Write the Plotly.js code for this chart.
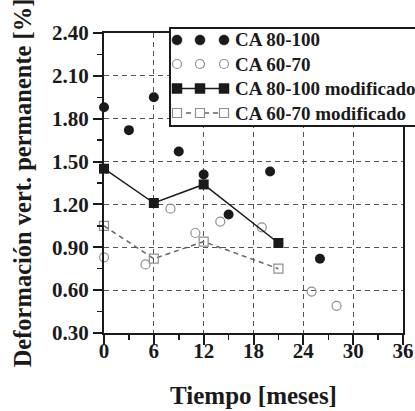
<!DOCTYPE html>
<html>
<head>
<meta charset="utf-8">
<script src="https://cdn.plot.ly/plotly-3.0.1.min.js"></script>
<style>html,body{margin:0;padding:0;background:#fff;}#chart{width:415px;height:411px;}</style>
</head>
<body>
<div id="chart"></div>
<script>
// ---- data ----
const ca80_x = [0, 3, 6, 9, 12, 15, 20, 26];
const ca80_y = [1.88, 1.72, 1.95, 1.57, 1.41, 1.13, 1.43, 0.82];
const ca60_x = [0, 5, 8, 11, 14, 19, 25, 28];
const ca60_y = [0.83, 0.78, 1.17, 1.00, 1.08, 1.04, 0.59, 0.49];
const ca80mod_x = [0, 6, 12, 21];
const ca80mod_y = [1.45, 1.21, 1.34, 0.93];
const ca60mod_x = [0, 6, 12, 21];
const ca60mod_y = [1.05, 0.82, 0.94, 0.75];
const seriesNames = ["CA 80-100", "CA 60-70", "CA 80-100 modificado", "CA 60-70 modificado"];
const xTicks = [0, 6, 12, 18, 24, 30, 36];
const yTicks = [0.30, 0.60, 0.90, 1.20, 1.50, 1.80, 2.10, 2.40];
const xTitle = "Tiempo [meses]";
const yTitle = "Deformación vert. permanente [%]";

// ---- layout constants ----
const W = 415, H = 411;
const M = {l: 104, r: 12, t: 33, b: 78};
const PW = W - M.l - M.r, PH = H - M.t - M.b;
const px2x = p => (p - M.l) / PW;
const py2y = p => (H - M.b - p) / PH;
const FONT = "Liberation Serif, serif";
const DARK = "#1a1a1a";
const GRAY = "#8f8f8f";

const traces = [
  {x: ca80_x, y: ca80_y, name: seriesNames[0], type: "scatter", mode: "markers", cliponaxis: false,
   marker: {symbol: "circle", size: 10, color: DARK}},
  {x: ca60_x, y: ca60_y, name: seriesNames[1], type: "scatter", mode: "markers", cliponaxis: false,
   marker: {symbol: "circle-open", size: 9, color: GRAY, line: {width: 1.2, color: GRAY}}},
  {x: ca80mod_x, y: ca80mod_y, name: seriesNames[2], type: "scatter", mode: "lines+markers", cliponaxis: false,
   line: {color: DARK, width: 1.5}, marker: {symbol: "square", size: 10, color: DARK}},
  {x: ca60mod_x, y: ca60mod_y, name: seriesNames[3], type: "scatter", mode: "lines+markers", cliponaxis: false,
   line: {color: "#666", width: 1.5, dash: "5px,4px"},
   marker: {symbol: "square-open", size: 9, color: GRAY, line: {width: 1.2, color: GRAY}}}
];

// ---- hand-drawn legend (Origin style, three symbols per row) ----
const shapes = [];
const annotations = [];
const box = {x0: 170, x1: 430, y0: 28, y1: 126};
shapes.push({type: "rect", xref: "paper", yref: "paper",
  x0: px2x(box.x0), x1: px2x(box.x1), y0: py2y(box.y1), y1: py2y(box.y0),
  fillcolor: "#fff", line: {color: DARK, width: 2}, layer: "above"});
const rowsY = [40, 64, 88.5, 113];
const symX = [177, 200, 224];
const textX = 233;
seriesNames.forEach((nm, i) => {
  const yy = py2y(rowsY[i]);
  if (i >= 2) {
    shapes.push({type: "line", xref: "paper", yref: "paper",
      x0: px2x(symX[0]), x1: px2x(symX[2]), y0: yy, y1: yy,
      line: {color: i === 2 ? DARK : "#666", width: 1.5, dash: i === 2 ? "solid" : "5px,4px"}});
  }
  symX.forEach(sx => {
    const filled = (i === 0 || i === 2);
    const r = filled ? 5 : 4.5;
    shapes.push({type: (i < 2 ? "circle" : "rect"), xref: "paper", yref: "paper",
      xsizemode: "pixel", ysizemode: "pixel", xanchor: px2x(sx), yanchor: yy,
      x0: -r, x1: r, y0: -r, y1: r,
      fillcolor: filled ? DARK : "#fff",
      line: {color: filled ? DARK : GRAY, width: filled ? 0.5 : 1.2}});
  });
  annotations.push({xref: "paper", yref: "paper", x: px2x(textX), y: yy,
    xanchor: "left", yanchor: "middle", text: nm, showarrow: false,
    font: {family: FONT, size: 19, color: DARK, weight: "bold"}});
});

const axisCommon = {
  showline: true, linecolor: DARK, linewidth: 2, mirror: true,
  showgrid: true, gridcolor: "#555", griddash: "5px,4px", gridwidth: 1,
  zeroline: false, ticks: "outside", tickwidth: 2, tickcolor: DARK,
  tickfont: {family: FONT, size: 21, color: DARK, weight: "bold"},
  automargin: false, fixedrange: true
};

const layout = {
  width: W, height: H, margin: M,
  paper_bgcolor: "#fff", plot_bgcolor: "#fff",
  showlegend: false,
  xaxis: Object.assign({}, axisCommon, {
    range: [0, 36], tickvals: xTicks, ticktext: xTicks.map(String), ticklen: 10,
    ticklabelstandoff: -12,
    minor: {dtick: 3, tick0: 0, ticks: "outside", ticklen: 5, tickwidth: 1.5, tickcolor: DARK, showgrid: false},
    title: {text: xTitle, standoff: 24, font: {family: FONT, size: 25, color: DARK, weight: "bold"}}
  }),
  yaxis: Object.assign({}, axisCommon, {
    range: [0.3, 2.4], tickvals: yTicks, ticktext: yTicks.map(v => v.toFixed(2)), ticklen: 9,
    minor: {dtick: 0.15, tick0: 0.3, ticks: "outside", ticklen: 5, tickwidth: 1.5, tickcolor: DARK, showgrid: false},
    title: {text: yTitle, standoff: 13, font: {family: FONT, size: 24.5, color: DARK, weight: "bold"}}
  }),
  shapes: shapes,
  annotations: annotations
};

Plotly.newPlot("chart", traces, layout, {displayModeBar: false, staticPlot: true});
</script>
</body>
</html>
